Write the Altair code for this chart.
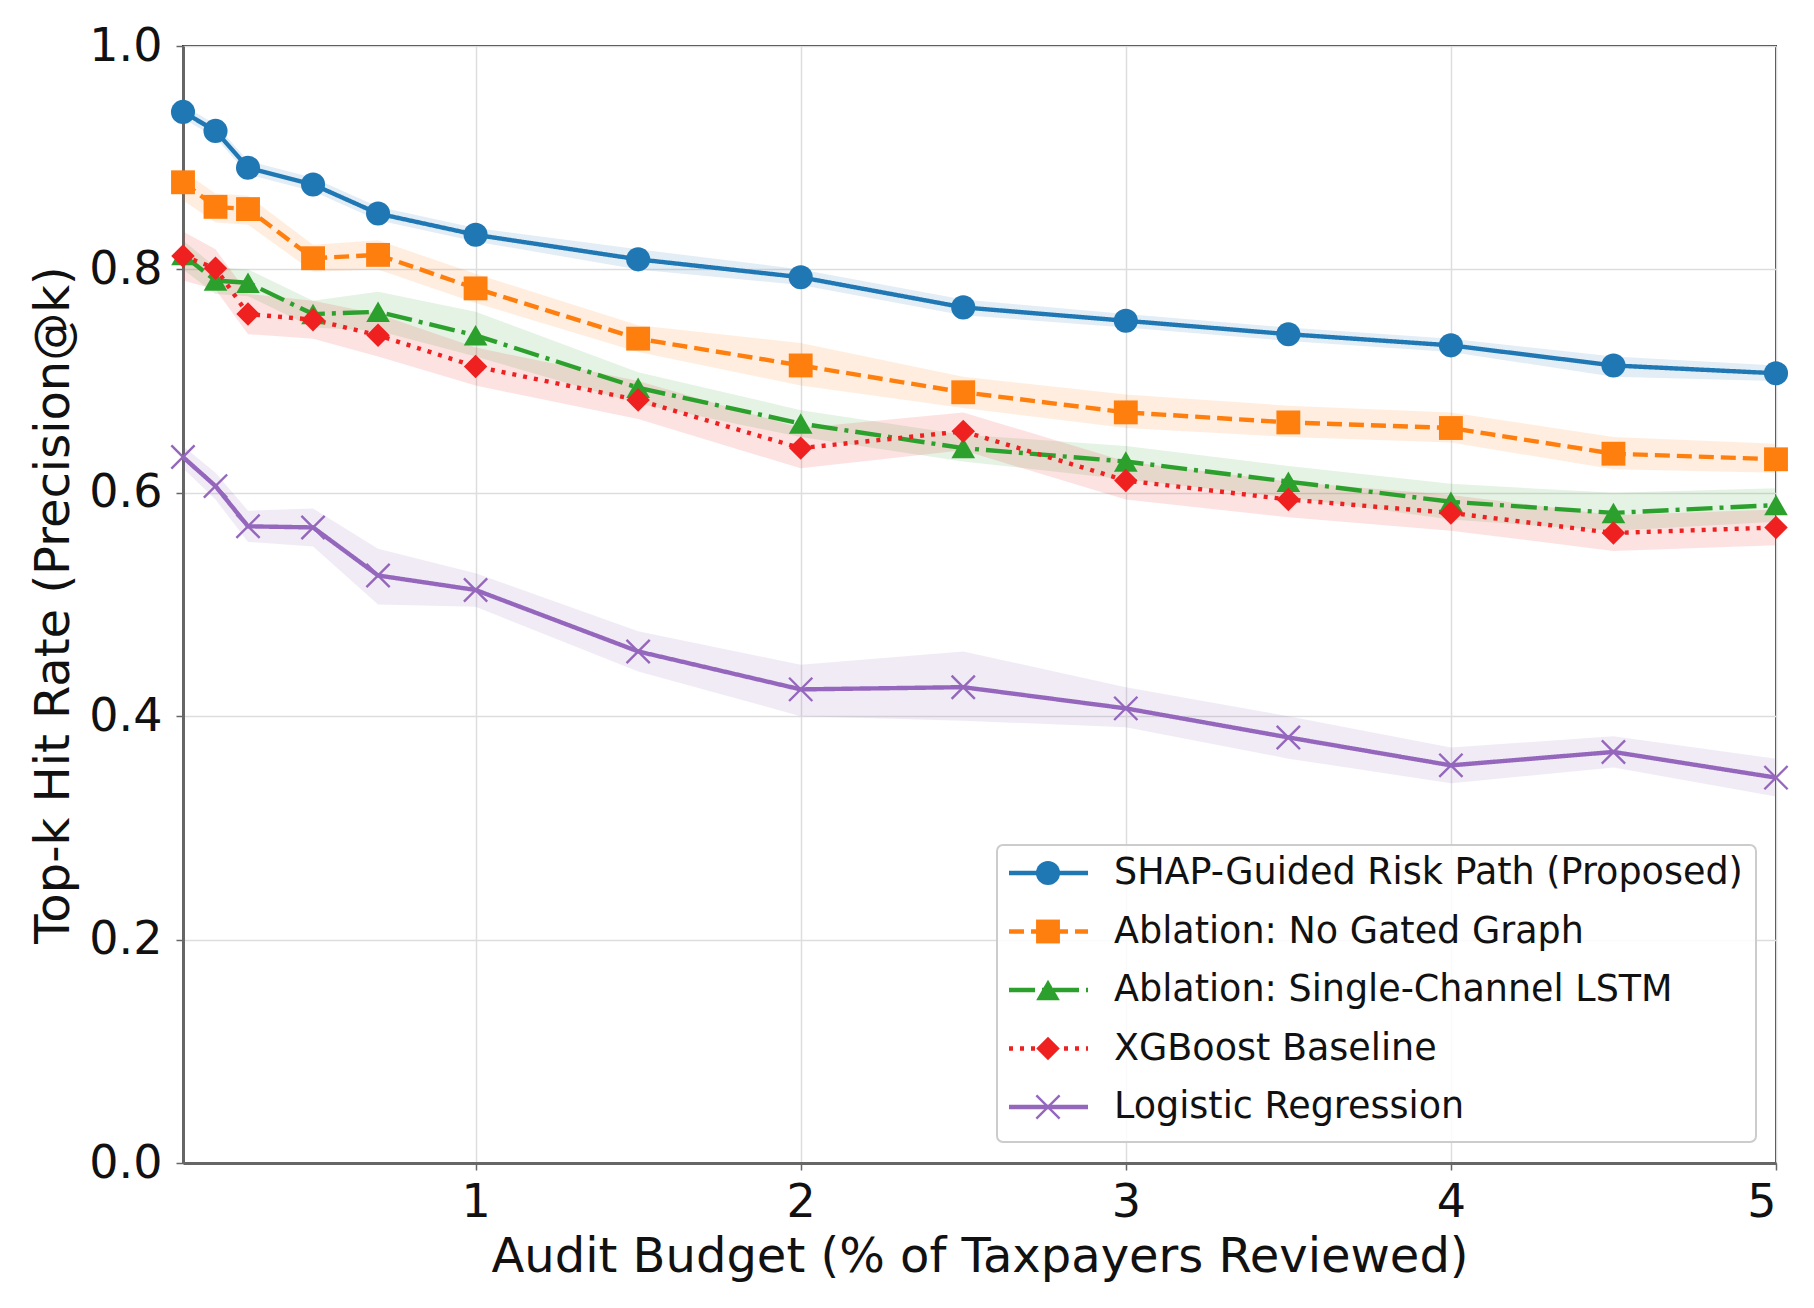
import altair as alt
import pandas as pd

# ---------------- data ----------------
budget = [0.1, 0.2, 0.3, 0.5, 0.7, 1.0, 1.5, 2.0, 2.5, 3.0, 3.5, 4.0, 4.5, 5.0]

series_names = [
    "SHAP-Guided Risk Path (Proposed)",
    "Ablation: No Gated Graph",
    "Ablation: Single-Channel LSTM",
    "XGBoost Baseline",
    "Logistic Regression",
]

shap_mean = [0.941, 0.924, 0.891, 0.876, 0.850, 0.831, 0.809, 0.793, 0.766, 0.754, 0.742, 0.732, 0.714, 0.707]
shap_lo = [0.935, 0.918, 0.885, 0.870, 0.844, 0.825, 0.800, 0.786, 0.759, 0.748, 0.736, 0.726, 0.704, 0.700]
shap_hi = [0.947, 0.930, 0.897, 0.882, 0.856, 0.837, 0.818, 0.800, 0.773, 0.760, 0.748, 0.738, 0.722, 0.714]

nogate_mean = [0.878, 0.856, 0.854, 0.810, 0.813, 0.783, 0.738, 0.714, 0.690, 0.672, 0.663, 0.658, 0.635, 0.630]
nogate_lo = [0.862, 0.842, 0.840, 0.798, 0.800, 0.770, 0.726, 0.696, 0.676, 0.658, 0.650, 0.645, 0.621, 0.618]
nogate_hi = [0.888, 0.868, 0.866, 0.822, 0.826, 0.796, 0.750, 0.734, 0.704, 0.688, 0.678, 0.672, 0.650, 0.644]

lstm_mean = [0.813, 0.790, 0.788, 0.760, 0.762, 0.741, 0.694, 0.662, 0.640, 0.628, 0.610, 0.592, 0.582, 0.589]
lstm_lo = [0.800, 0.778, 0.776, 0.748, 0.745, 0.722, 0.680, 0.650, 0.628, 0.612, 0.596, 0.576, 0.566, 0.574]
lstm_hi = [0.826, 0.802, 0.800, 0.772, 0.780, 0.762, 0.708, 0.674, 0.652, 0.642, 0.624, 0.608, 0.600, 0.604]

xgb_mean = [0.812, 0.801, 0.760, 0.755, 0.741, 0.713, 0.683, 0.640, 0.655, 0.611, 0.594, 0.582, 0.564, 0.569]
xgb_lo = [0.790, 0.782, 0.742, 0.738, 0.722, 0.696, 0.666, 0.622, 0.638, 0.594, 0.578, 0.566, 0.548, 0.553]
xgb_hi = [0.834, 0.818, 0.778, 0.772, 0.760, 0.730, 0.700, 0.658, 0.672, 0.628, 0.610, 0.598, 0.580, 0.585]

lr_mean = [0.632, 0.606, 0.570, 0.569, 0.526, 0.513, 0.458, 0.424, 0.426, 0.407, 0.381, 0.356, 0.368, 0.345]
lr_lo = [0.622, 0.594, 0.556, 0.552, 0.500, 0.498, 0.440, 0.400, 0.396, 0.390, 0.362, 0.340, 0.354, 0.328]
lr_hi = [0.642, 0.618, 0.584, 0.586, 0.550, 0.528, 0.476, 0.446, 0.458, 0.426, 0.400, 0.372, 0.382, 0.362]

x_ticks = [1, 2, 3, 4, 5]
y_ticks = [0.0, 0.2, 0.4, 0.6, 0.8, 1.0]

# ---------------- styles ----------------
colors = ["#1f77b4", "#ff7f0e", "#2ca02c", "#ee2020", "#9467bd"]
dashes = [[1, 0], [15, 7], [26, 7, 4, 7], [4, 7], [1, 0]]
x_path = "M-1,-1L1,1M-1,1L1,-1"
shapes = ["circle", "square", "triangle-up", "diamond", x_path]
FONT = "DejaVu Sans"
LW = 4.4

W, H = 1593, 1117

means = [shap_mean, nogate_mean, lstm_mean, xgb_mean, lr_mean]
los = [shap_lo, nogate_lo, lstm_lo, xgb_lo, lr_lo]
his = [shap_hi, nogate_hi, lstm_hi, xgb_hi, lr_hi]

rows = []
for i, name in enumerate(series_names):
    for x, m, lo, hi in zip(budget, means[i], los[i], his[i]):
        rows.append({"budget": x, "value": m, "lo": lo, "hi": hi, "series": name, "order": i})
df = pd.DataFrame(rows)

color_scale = alt.Scale(domain=series_names, range=colors)
dash_scale = alt.Scale(domain=series_names, range=dashes)
shape_scale = alt.Scale(domain=series_names, range=shapes)
size_scale = alt.Scale(domain=series_names, range=[580, 540, 620, 860, 440])

xenc = alt.X("budget:Q", scale=alt.Scale(domain=[0.1, 5], nice=False, zero=False),
             axis=alt.Axis(values=x_ticks, format="d", title="Audit Budget (% of Taxpayers Reviewed)"))
yscale = alt.Scale(domain=[0, 1], nice=False)
yaxis = alt.Axis(values=y_ticks, format=".1f", title="Top-k Hit Rate (Precision@k)")
yenc = alt.Y("value:Q", scale=yscale, axis=yaxis)

base = alt.Chart(df)
col = alt.Color("series:N", scale=color_scale, legend=None)
shp = alt.Shape("series:N", scale=shape_scale, legend=None)
siz = alt.Size("series:N", scale=size_scale, legend=None)

bands = base.mark_area(opacity=0.13).encode(
    x=xenc,
    y=alt.Y("lo:Q", scale=yscale, axis=yaxis),
    y2="hi:Q",
    color=col,
)

lines = base.mark_line(strokeWidth=LW, strokeCap="butt").encode(
    x=xenc, y=yenc, color=col,
    strokeDash=alt.StrokeDash("series:N", scale=dash_scale, legend=None),
    order="order:Q",
)

pts_filled = base.transform_filter(alt.datum.order < 4).mark_point(filled=True, opacity=1).encode(
    x=xenc, y=yenc, color=col, shape=shp, size=siz,
)

pts_x = base.transform_filter(alt.datum.order == 4).mark_point(filled=False, opacity=1, strokeWidth=2.4).encode(
    x=xenc, y=yenc, color=col, shape=shp, size=siz,
)

data_layer = alt.layer(bands, lines, pts_filled, pts_x)

# ---------------- manual legend (matplotlib-like) ----------------
leg_df = pd.DataFrame({"series": series_names, "idx": list(range(len(series_names)))})
leg_base = alt.Chart(leg_df)
leg_y = alt.Y("idx:Q", scale=alt.Scale(domain=[0, 4], range=[827, 1061]), axis=None)

box = alt.Chart(pd.DataFrame({"a": [0]})).mark_rect(
    fill="white", fillOpacity=0.85, stroke="#cccccc", strokeWidth=2, cornerRadius=6
).encode(x=alt.value(814), x2=alt.value(1573), y=alt.value(799), y2=alt.value(1096))

leg_lines = leg_base.mark_rule(strokeWidth=LW, strokeCap="butt").encode(
    x=alt.value(826), x2=alt.value(905), y=leg_y, color=col,
    strokeDash=alt.StrokeDash("series:N", scale=dash_scale, legend=None),
)
leg_pts = leg_base.transform_filter(alt.datum.idx < 4).mark_point(filled=True, opacity=1).encode(
    x=alt.value(865), y=leg_y, color=col, shape=shp, size=siz,
)
leg_ptx = leg_base.transform_filter(alt.datum.idx == 4).mark_point(filled=False, opacity=1, strokeWidth=2.4).encode(
    x=alt.value(865), y=leg_y, color=col, shape=shp, size=siz,
)
leg_text = leg_base.mark_text(align="left", baseline="middle", font=FONT, fontSize=36.5, color="#111").encode(
    x=alt.value(931), y=leg_y, text="series:N",
)

legend_layer = alt.layer(box, leg_lines, leg_pts, leg_ptx, leg_text)

chart = alt.layer(
    data_layer, legend_layer
).resolve_scale(y="independent").properties(
    width=W, height=H,
    autosize=alt.AutoSizeParams(type="none"),
    padding={"left": 183, "top": 46, "right": 38, "bottom": 145},
    background="white",
).configure_view(
    stroke="#333333", strokeWidth=2
).configure_axis(
    labelFont=FONT, titleFont=FONT, labelFontSize=46, titleFontSize=48,
    labelColor="#111", titleColor="#111", titleFontWeight="normal",
    grid=True, gridColor="#dddddd", gridWidth=1.5,
    domainColor="#666666", domainWidth=3,
    tickColor="#666666", tickSize=7, tickWidth=1.5,
    labelPadding=8,
).configure_axisX(
    titlePadding=8, labelPadding=10,
).configure_axisY(
    titlePadding=10, labelPadding=14,
)

chart.save("out.html", embed_options={"renderer": "svg", "actions": False})
